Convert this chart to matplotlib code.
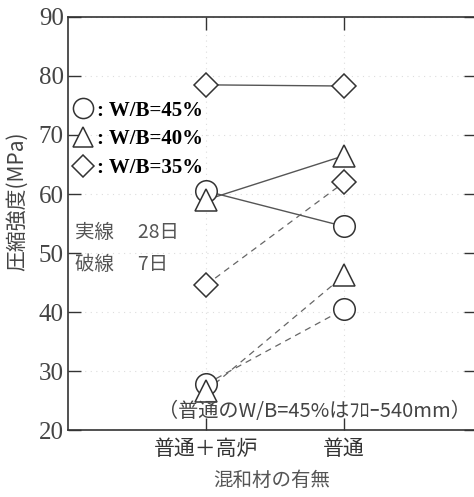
import matplotlib.pyplot as plt
from matplotlib.lines import Line2D

plt.rcParams['font.family'] = ['Liberation Serif', 'Noto Sans CJK JP', 'DejaVu Sans']

categories = ['普通＋高炉', '普通']
series = ['W/B=45%', 'W/B=40%', 'W/B=35%']
markers = ['o', '^', 'D']
strength_28d = [[60.5, 54.5], [59.0, 66.5], [78.5, 78.3]]
strength_7d = [[27.8, 40.5], [26.6, 46.2], [44.6, 62.0]]

fig = plt.figure(figsize=(4.74, 4.97), dpi=100)
ax = fig.add_axes([0.1435, 0.1348, 0.861, 0.831])

x = list(range(len(categories)))
msize = {'o': 15.5, '^': 15.5, 'D': 12}
for vals7, vals28, m in zip(strength_7d, strength_28d, markers):
    ax.plot(x, vals7, color='#666666', lw=0.9, ls=(0, (5, 4)), zorder=2)
    ax.plot(x, vals28, color='#555555', lw=1.0, ls='-', zorder=2)
    for vals in (vals7, vals28):
        ax.plot(x, vals, ls='none', marker=m, ms=msize[m], mfc='white',
                mec='#333333', mew=1.1, zorder=3)

ax.set_xlim(-1.0, 1.955)
ax.set_ylim(20, 90)
ax.set_yticks(range(20, 91, 10))
ax.set_xticks(x)
ax.set_xticklabels(categories, fontsize=15, family=['Noto Sans CJK JP'])
ax.tick_params(axis='y', direction='in', length=9, width=1.0, labelsize=18,
               right=True, colors='#333333', labelcolor='#444444', pad=3)
ax.tick_params(axis='x', direction='in', length=9, width=1.0, top=True,
               colors='#333333', pad=6)
ax.grid(True, color='#dddddd', ls=(0, (1, 4)), lw=0.8)
ax.set_axisbelow(True)
for side in ['left', 'bottom', 'top']:
    ax.spines[side].set_linewidth(1.2)
    ax.spines[side].set_color('#333333')
ax.spines['right'].set_visible(False)

ax.set_ylabel('圧縮強度(MPa)', fontsize=15, family=['Noto Sans CJK JP'],
              color='#444444')
ax.yaxis.set_label_coords(-0.098, 0.555)
ax.set_xlabel('混和材の有無', fontsize=14, family=['Noto Sans CJK JP'],
              color='#555555', labelpad=7)

handles = [Line2D([], [], ls='none', marker=m, ms=msize[m] - 1, mfc='white',
                  mec='#333333', mew=1.1) for m in markers]
ax.legend(handles, [': ' + s for s in series], loc='upper left',
          bbox_to_anchor=(-0.03, 0.843), frameon=False, handlelength=0.8,
          handletextpad=0.3, labelspacing=0.42,
          prop={'family': 'Liberation Serif', 'weight': 'bold', 'size': 15})

ax.text(0.017, 0.479, '実線　 28日', transform=ax.transAxes, fontsize=14,
        family=['Noto Sans CJK JP'], color='#555555', va='center')
ax.text(0.017, 0.40, '破線　 7日', transform=ax.transAxes, fontsize=14,
        family=['Noto Sans CJK JP'], color='#555555', va='center')
ax.text(0.22, 0.044, '（普通のW/B=45%はﾌﾛｰ540mm）', transform=ax.transAxes,
        fontsize=14.5, family=['Noto Sans CJK JP', 'DejaVu Sans'],
        color='#444444', va='center')

fig.savefig('out.png', dpi=100)
